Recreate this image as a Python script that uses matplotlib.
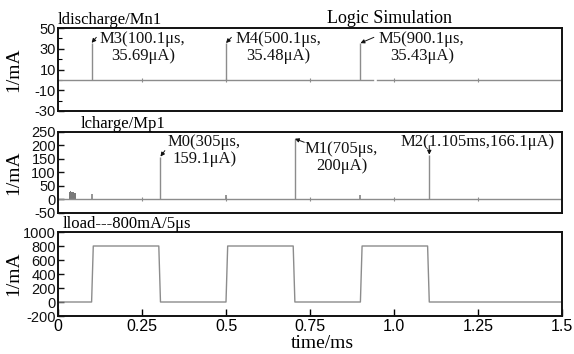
import matplotlib

matplotlib.use("Agg")

import matplotlib.pyplot as plt
import numpy as np

SERIF = "Liberation Serif"
SANS = "Liberation Sans"
GRAY = "#8c8c8c"
BLACK = "#111111"

# time axis (ms)
x_ticks = [0, 0.25, 0.5, 0.75, 1.0, 1.25, 1.5]
x_tick_labels = ["0", "0.25", "0.5", "0.75", "1.0", "1.25", "1.5"]

# ldischarge/Mn1 (uA): baseline with a short gap, three spikes
dis_base_t = [0.0, 0.937, np.nan, 0.949, 1.5]
dis_base_v = [0.0, 0.0, np.nan, 0.0, 0.0]
dis_spike_t = [0.1001, 0.5001, 0.9001]
dis_spike_v = [35.69, 35.48, 35.43]

# lcharge/Mp1 (uA)
chg_spike_t = [0.305, 0.705, 1.105]
chg_spike_v = [159.1, 225.0, 166.1]
chg_small_t = [0.1, 0.5, 0.9]
chg_small_v = [22, 18, 18]
chg_burst_t = [0.033, 0.037, 0.041, 0.045, 0.049, 0.053]
chg_burst_v = [28, 30, 27, 26, 25, 24]

# lload (mA): 800 mA pulses, 5 us edges
load_t = [0, 0.1, 0.105, 0.3, 0.305, 0.5, 0.505, 0.7, 0.705, 0.9, 0.905, 1.1, 1.105, 1.5]
load_v = [0, 0, 800, 800, 0, 0, 800, 800, 0, 0, 800, 800, 0, 0]

fig = plt.figure(figsize=(5.74, 3.54), dpi=100)
fig.patch.set_facecolor("white")

W, H = 574.0, 354.0


def panel(top, bottom):
    left, right = 58, 562
    return fig.add_axes([left / W, 1 - bottom / H, (right - left) / W, (bottom - top) / H])


def style(ax, yticks, ylim):
    ax.set_xlim(0, 1.5)
    ax.set_ylim(*ylim)
    ax.set_yticks(yticks)
    ax.set_yticklabels([str(v) for v in yticks], fontfamily=SANS, fontsize=10.5)
    ax.tick_params(axis="y", direction="in", length=4, width=1, pad=1.5, colors=BLACK)
    for sp in ax.spines.values():
        sp.set_linewidth(1.4)
        sp.set_color(BLACK)


def baseline_marks(ax):
    ax.plot(x_ticks[1:-1], [0] * (len(x_ticks) - 2), linestyle="none",
            marker="|", markersize=3, color=GRAY, mew=0.8)


def spike(ax, t, v, lw=1.0):
    ax.vlines(t, 0, v, color=GRAY, linewidth=lw)


def marker(ax, tip, tail):
    ax.annotate("", xy=tip, xytext=tail,
                arrowprops=dict(arrowstyle="-|>", color=BLACK, lw=0.7,
                                mutation_scale=6, shrinkA=0, shrinkB=0))


ann_kw = dict(fontfamily=SERIF, fontsize=12, color=BLACK, multialignment="center",
              linespacing=1.05)

# panel 1
ax1 = panel(28, 111)
style(ax1, [50, 30, 10, -10, -30], (-30, 50))
ax1.set_yticks([40, 20, 0, -20], minor=True)
ax1.tick_params(axis="y", which="minor", direction="in", length=3, width=0.8)
ax1.set_xticks([])
ax1.plot(dis_base_t, dis_base_v, color=GRAY, linewidth=1.0)
spike(ax1, dis_spike_t, dis_spike_v)
baseline_marks(ax1)
ax1.text(0.0, 0.995, "ldischarge/Mn1", transform=ax1.transAxes, fontfamily=SERIF,
         fontsize=12, va="bottom", ha="left")
ax1.text(0.534, 1.012, "Logic Simulation", transform=ax1.transAxes, fontfamily=SERIF,
         fontsize=13, va="bottom", ha="left")
ax1.text(0.125, 47, "M3(100.1\u03bcs,\n35.69\u03bcA)", ha="left", va="top", **ann_kw)
ax1.text(0.527, 47, "M4(500.1\u03bcs,\n35.48\u03bcA)", ha="left", va="top", **ann_kw)
ax1.text(0.955, 47, "M5(900.1\u03bcs,\n35.43\u03bcA)", ha="left", va="top", **ann_kw)
marker(ax1, (dis_spike_t[0], dis_spike_v[0]), (0.114, 41))
marker(ax1, (dis_spike_t[1], dis_spike_v[1]), (0.516, 41))
marker(ax1, (dis_spike_t[2], dis_spike_v[2]), (0.94, 41))

# panel 2
ax2 = panel(132, 213)
style(ax2, [250, 200, 150, 100, 50, 0, -50], (-50, 250))
ax2.set_xticks([])
ax2.axhline(0, color=GRAY, linewidth=1.0)
spike(ax2, chg_spike_t, chg_spike_v)
spike(ax2, chg_small_t, chg_small_v, lw=1.3)
ax2.fill_between(chg_burst_t, 0, chg_burst_v, step="mid", color="#7a7a7a", linewidth=0)
baseline_marks(ax2)
ax2.text(0.044, 1.0, "lcharge/Mp1", transform=ax2.transAxes, fontfamily=SERIF,
         fontsize=12, va="bottom", ha="left")
ax2.text(0.327, 241, "M0(305\u03bcs,\n159.1\u03bcA)", ha="left", va="top", **ann_kw)
ax2.text(0.735, 216, "M1(705\u03bcs,\n200\u03bcA)", ha="left", va="top", **ann_kw)
ax2.text(1.018, 241, "M2(1.105ms,166.1\u03bcA)", ha="left", va="top", **ann_kw)
marker(ax2, (chg_spike_t[0], chg_spike_v[0]), (0.318, 181))
marker(ax2, (chg_spike_t[1], chg_spike_v[1]), (0.733, 212))
marker(ax2, (chg_spike_t[2], chg_spike_v[2]), (chg_spike_t[2], 200))

# panel 3
ax3 = panel(232, 316)
style(ax3, [1000, 800, 600, 400, 200, 0, -200], (-200, 1000))
ax3.plot(load_t, load_v, color=GRAY, linewidth=1.0)
ax3.set_xticks(x_ticks)
ax3.set_xticklabels(x_tick_labels, fontfamily=SANS, fontsize=11.5)
ax3.tick_params(axis="x", direction="in", length=5, width=1, pad=2)
ax3.text(0.01, 1.0, "lload---800mA/5\u03bcs", transform=ax3.transAxes, fontfamily=SERIF,
         fontsize=12, va="bottom", ha="left")

for ax in (ax1, ax2, ax3):
    bb = ax.get_position()
    fig.text(14 / W, (bb.y0 + bb.y1) / 2, "1/mA", rotation=90, fontfamily=SERIF,
             fontsize=14, ha="center", va="center")

fig.text(322 / W, 1 - 344 / H, "time/ms", fontfamily=SERIF, fontsize=14,
         ha="center", va="center")

fig.savefig("out.png", dpi=100)
